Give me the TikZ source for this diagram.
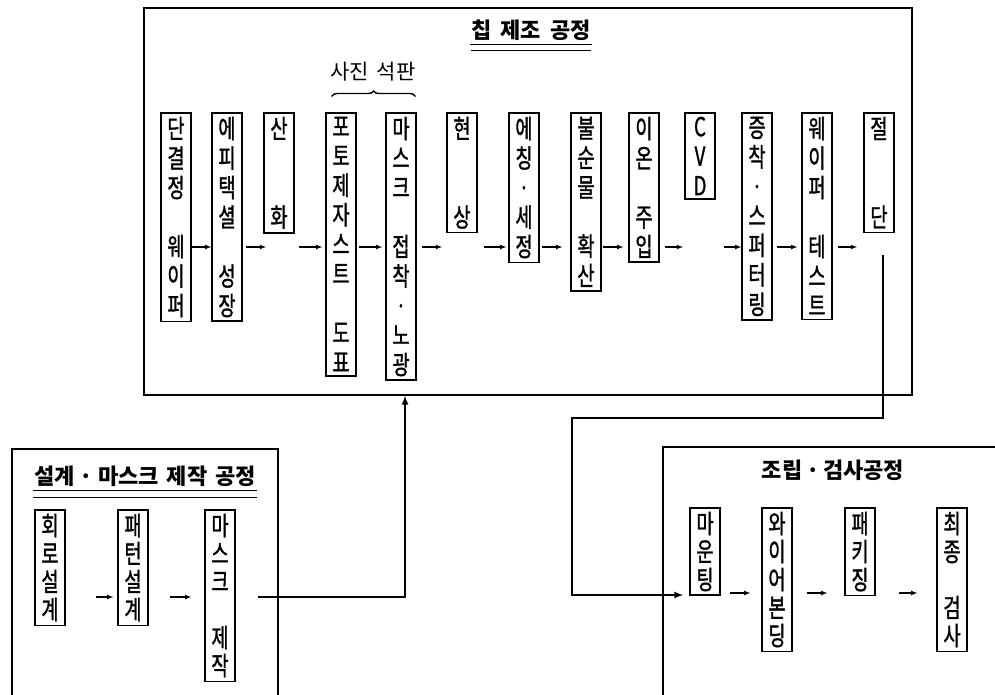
\documentclass[tikz,border=0pt]{standalone}
\usepackage{fontspec}
\newfontfamily\kr{Noto Sans CJK KR}
\newfontfamily\krcol[FakeStretch=0.72,FakeBold=1.2]{Noto Sans CJK KR}
\usepackage{tikz}
\usetikzlibrary{arrows}
\usetikzlibrary{decorations.pathreplacing}

\begin{document}
\begin{tikzpicture}[x=1pt,y=-1pt,line cap=rect,
	stepcol/.style={draw, line width=1.5pt, anchor=north, minimum width=30pt, inner xsep=0pt, inner ysep=4pt, align=center, font=\colfontA},
	stepcolB/.style={stepcol, font=\colfontB},
	arr/.style={line width=1.1pt, -latex},
	wire/.style={line width=2.0pt},
	title/.style={inner sep=0pt, font=\kr\bfseries\fontsize{22}{22}\selectfont}]
				\def\colfontA{\krcol\fontsize{26}{29.5}\selectfont} % chip columns
				\def\colfontB{\krcol\fontsize{26}{28}\selectfont} % lower columns
				\useasboundingbox (0,0) rectangle (995,694);
				\coordinate (lvlA) at (0,247);
				\coordinate (lvlB) at (0,597);
				\coordinate (lvlC) at (0,593);
				% chip process
				\node[draw, line width=1.4pt, minimum width=768pt, minimum height=387pt] (chip) at (528,201.5) {};
				\node[title] (tchip) at (531,30) {칩\hspace{4pt} 제조\hspace{4pt} 공정};
				\draw [line width=1.6pt] ([yshift=-4pt]tchip.south west) -- ([yshift=-4pt]tchip.south east);
				\draw [line width=1.0pt] ([yshift=-10pt]tchip.south west) -- ([yshift=-10pt]tchip.south east);
				\node[inner sep=0pt, font=\kr\fontsize{21}{21}\selectfont] (litho) at (373,72) {사진\hspace{3pt} 석판};
				\draw [line width=1.4pt, decorate, decoration={brace, amplitude=5pt}] (332,96) -- (415,96);
				\node[stepcol] (c1) at (176,112) {단\\결\\정\\[29.5pt]웨\\이\\퍼};
				\node[stepcol] (c2) at (227,112) {에\\피\\택\\셜\\[29.5pt]성\\장};
				\node[stepcol] (c3) at (279,112) {산\\[59pt]화};
				\node[stepcol] (c4) at (341,112) {포\\토\\제\\자\\스\\트\\[29.5pt]도\\표};
				\node[stepcol] (c5) at (401,112) {마\\스\\크\\[29.5pt]접\\착\\·\\노\\광};
				\node[stepcol] (c6) at (462,112) {현\\[59pt]상};
				\node[stepcol] (c7) at (524,112) {에\\칭\\·\\세\\정};
				\node[stepcol] (c8) at (586,112) {불\\순\\물\\[29.5pt]확\\산};
				\node[stepcol] (c9) at (644,112) {이\\온\\[29.5pt]주\\입};
				\node[stepcol] (c10) at (700,112) {C\\V\\D};
				\node[stepcol] (c11) at (757,112) {증\\착\\·\\스\\퍼\\터\\링};
				\node[stepcol] (c12) at (817,112) {웨\\이\\퍼\\[29.5pt]테\\스\\트};
				\node[stepcol] (c13) at (879,112) {절\\[59pt]단};
				\draw [arr] (c1.east |- lvlA) -- (c2.west |- lvlA);
				\draw [arr] ([xshift=4pt]c2.east |- lvlA) -- ([xshift=-13pt]c3.south |- lvlA);
				\draw [arr] ([xshift=21pt]c3.south |- lvlA) -- ([xshift=-3pt]c4.west |- lvlA);
				\draw [arr] ([xshift=3pt]c4.east |- lvlA) -- ([xshift=-3pt]c5.west |- lvlA);
				\draw [arr] ([xshift=6pt]c5.east |- lvlA) -- ([xshift=-20pt]c6.south |- lvlA);
				\draw [arr] ([xshift=23pt]c6.south |- lvlA) -- ([xshift=-2pt]c7.west |- lvlA);
				\draw [arr] ([xshift=3pt]c7.east |- lvlA) -- ([xshift=-8pt]c8.west |- lvlA);
				\draw [arr] ([xshift=2pt]c8.east |- lvlA) -- ([xshift=-5pt]c9.west |- lvlA);
				\draw [arr] ([xshift=6pt]c9.east |- lvlA) -- ([xshift=-17pt]c10.south |- lvlA);
				\draw [arr] ([xshift=25pt]c10.south |- lvlA) -- (c11.west |- lvlA);
				\draw [arr] ([xshift=5pt]c11.east |- lvlA) -- ([xshift=-4pt]c12.west |- lvlA);
				\draw [arr] ([xshift=6pt]c12.east |- lvlA) -- ([xshift=-22pt]c13.south |- lvlA);
				% design and mask process
				\draw [line width=1.3pt] (12,694) |- (278,449) -- (278,694);
				\node[title] (tdesign) at (145,476) {설계 · 마스크\hspace{3pt} 제작\hspace{3pt} 공정};
				\draw [line width=1.6pt] ([yshift=-4pt]tdesign.south west) -- ([yshift=-4pt]tdesign.south east);
				\draw [line width=1.0pt] ([yshift=-11pt]tdesign.south west) -- ([yshift=-11pt]tdesign.south east);
				\node[stepcolB] (k1) at (50,509) {회\\로\\설\\계};
				\node[stepcolB] (k2) at (133,509) {패\\턴\\설\\계};
				\node[stepcolB] (k3) at (220,509) {마\\스\\크\\[28pt]제\\작};
				\draw [arr] ([xshift=31pt]k1.east |- lvlB) -- ([xshift=-4pt]k2.west |- lvlB);
				\draw [arr] ([xshift=22pt]k2.east |- lvlB) -- ([xshift=-13pt]k3.west |- lvlB);
				\coordinate (kout) at ([xshift=23pt]k3.east |- lvlB);
				\coordinate (kup) at (405,597);
				\draw [wire,-latex] (kout) -- (kup) -- (kup |- chip.south);
				% assembly and test process
				\draw [line width=1.2pt] (663,694) |- (995,447);
				\node[title] (tasm) at (833,470) {조립\,·\,검사공정};
				\node[stepcolB] (m1) at (705,507) {마\\운\\팅};
				\node[stepcolB] (m2) at (777,507) {와\\이\\어\\본\\딩};
				\node[stepcolB] (m3) at (860,507) {패\\키\\징};
				\node[stepcolB] (m4) at (952,507) {최\\종\\[28pt]검\\사};
				\draw [arr] ([xshift=10pt]m1.east |- lvlC) -- ([xshift=-11pt]m2.west |- lvlC);
				\draw [arr] ([xshift=15pt]m2.east |- lvlC) -- ([xshift=-17pt]m3.west |- lvlC);
				\draw [arr] ([xshift=24pt]m3.east |- lvlC) -- ([xshift=-19pt]m4.west |- lvlC);
				\coordinate (cutout) at ([xshift=4pt,yshift=-23pt]c13.south);
				\coordinate (j1) at (883,418);
				\coordinate (j2) at (572,418);
				\draw [wire,-latex] (cutout) -- (j1) -- (j2) |- ([xshift=-6pt]m1.west |- 0,595);
			\end{tikzpicture}
\end{document}
